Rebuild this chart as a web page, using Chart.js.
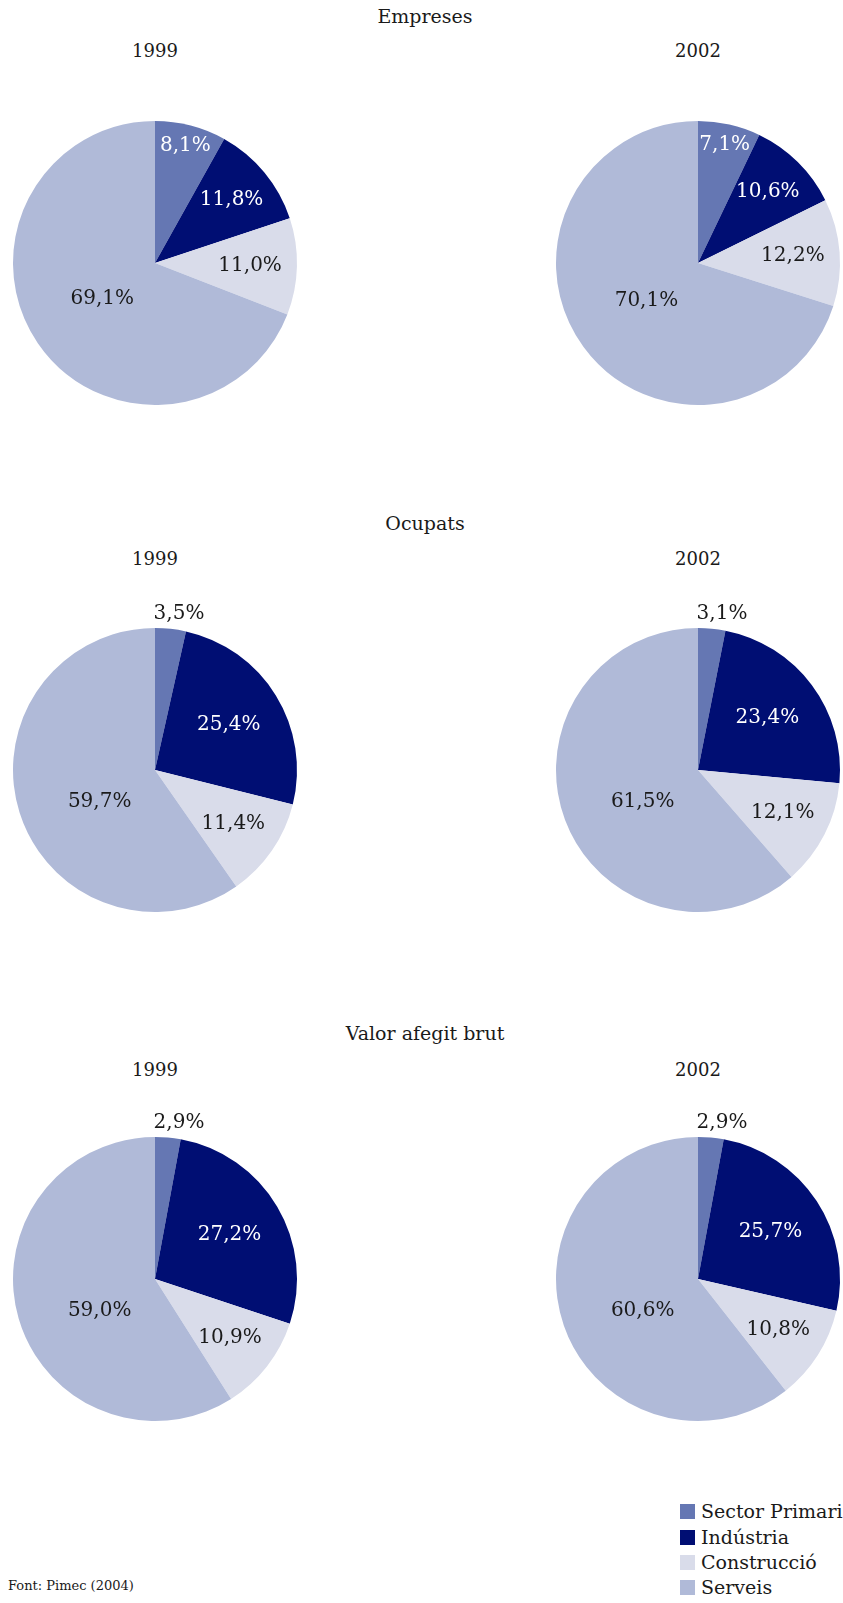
<!DOCTYPE html>
<html><head><meta charset="utf-8">
<script src="https://cdn.jsdelivr.net/npm/chart.js@4/dist/chart.umd.min.js"></script>
<style>
body{margin:0;background:#fff;width:843px;height:1603px;position:relative;overflow:hidden;font-family:"DejaVu Serif",serif;color:#1a1a1a}
.t{position:absolute;transform:translateX(-50%);white-space:nowrap;font-size:18px}
.t.h{font-size:19px}
.box{position:absolute;width:320px;height:340px}
.leg{position:absolute;left:680px;font-size:19px;white-space:nowrap}
.leg span{display:inline-block;width:15px;height:15px;margin-right:6px;vertical-align:-1px}
.src{position:absolute;left:8px;top:1578px;font-size:13px}
</style></head><body>
<script>
const categories = ["Sector Primari","Indústria","Construcció","Serveis"];
const sections = ["Empreses","Ocupats","Valor afegit brut"];
const years = ["1999","2002"];
const empreses1999 = [8.1, 11.8, 11.0, 69.1];
const empreses2002 = [7.1, 10.6, 12.2, 70.1];
const ocupats1999 = [3.5, 25.4, 11.4, 59.7];
const ocupats2002 = [3.1, 23.4, 12.1, 61.5];
const vab1999 = [2.9, 27.2, 10.9, 59.0];
const vab2002 = [2.9, 25.7, 10.8, 60.6];
const source = "Font: Pimec (2004)";

const colors = ["#6577B3","#000E73","#D9DCEA","#B0BAD8"];
const textColors = ["#ffffff","#ffffff","#1a1a1a","#1a1a1a"];
const series = [[empreses1999, empreses2002],[ocupats1999, ocupats2002],[vab1999, vab2002]];
const rowCenters = [263, 770, 1279];
const titleY = [5, 512, 1022];
const yearY = [40, 548, 1059];
const colCenters = [155, 698];

const labelPlugin = {
  id:'pieLabels',
  afterDatasetsDraw(chart){
    const ctx = chart.ctx;
    const meta = chart.getDatasetMeta(0);
    const data = chart.data.datasets[0].data;
    ctx.save();
    ctx.font = '20px "DejaVu Serif", serif';
    ctx.textAlign = 'center';
    ctx.textBaseline = 'middle';
    meta.data.forEach((arc, i) => {
      const p = arc.getProps(['x','y','startAngle','endAngle','outerRadius'], true);
      let mid = (p.startAngle + p.endAngle) / 2;
      let f, col = textColors[i];
      if (i === 0) f = 0.85;
      else if (i === 1) f = data[i] < 15 ? 0.70 : 0.61;
      else if (i === 2) f = 0.67;
      else { f = 0.45; mid = Math.min(mid, Math.PI * 150 / 180); }
      let x = p.x + Math.cos(mid) * p.outerRadius * f;
      let y = p.y + Math.sin(mid) * p.outerRadius * f;
      if (i === 0 && data[i] <= 5) { y = p.y - p.outerRadius - 14; x = p.x + 24; col = '#1a1a1a'; }
      ctx.fillStyle = col;
      ctx.fillText(data[i].toFixed(1).replace('.', ',') + '%', x, y);
    });
    ctx.restore();
  }
};

sections.forEach((s, r) => {
  const t = document.createElement('div');
  t.className = 't h'; t.textContent = s; t.style.left = '425px'; t.style.top = titleY[r] + 'px';
  document.body.appendChild(t);
  years.forEach((yr, c) => {
    const y = document.createElement('div');
    y.className = 't'; y.textContent = yr; y.style.left = colCenters[c] + 'px'; y.style.top = yearY[r] + 'px';
    document.body.appendChild(y);
    const box = document.createElement('div');
    box.className = 'box';
    box.style.left = (colCenters[c] - 160) + 'px';
    box.style.top = (rowCenters[r] - 170) + 'px';
    const cv = document.createElement('canvas');
    box.appendChild(cv);
    document.body.appendChild(box);
    new Chart(cv, {
      type: 'pie',
      data: { labels: categories, datasets: [{ data: series[r][c], backgroundColor: colors, borderWidth: 0 }] },
      options: {
        responsive: true, maintainAspectRatio: false, animation: false,
        layout: { padding: { left: 18, right: 18, top: 28, bottom: 28 } },
        plugins: { legend: { display: false }, tooltip: { enabled: false } }
      },
      plugins: [labelPlugin]
    });
  });
});

const legTops = [1500, 1526, 1551, 1576];
categories.forEach((c, i) => {
  const d = document.createElement('div');
  d.className = 'leg'; d.style.top = legTops[i] + 'px';
  d.innerHTML = '<span style="background:' + colors[i] + '"></span>';
  d.appendChild(document.createTextNode(c));
  document.body.appendChild(d);
});
const src = document.createElement('div');
src.className = 'src'; src.textContent = source;
document.body.appendChild(src);
</script>
</body></html>
